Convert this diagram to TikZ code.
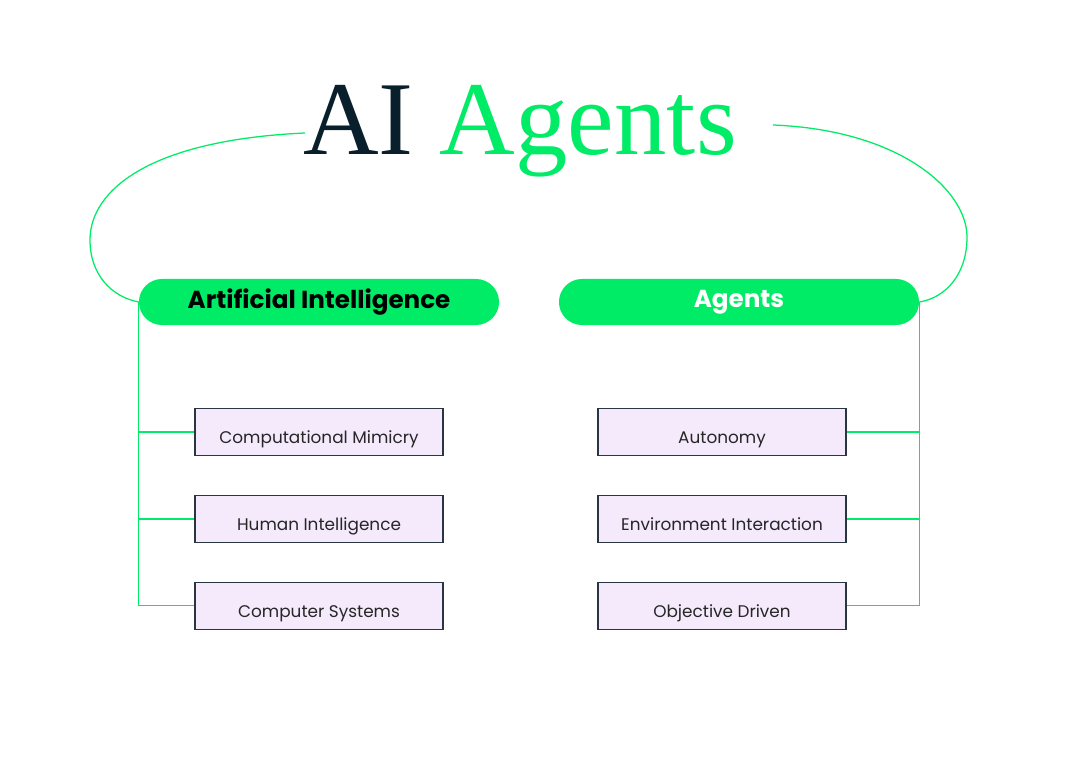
\documentclass[tikz,border=0pt]{standalone}
\usepackage{fontspec}
\setmainfont{Liberation Serif}
\setsansfont{Poppins}
\usetikzlibrary{positioning}
\definecolor{aigreen}{HTML}{00EB66}
\definecolor{ainavy}{HTML}{0A1F2C}
\definecolor{lavender}{HTML}{F5EAFC}
\definecolor{boxline}{HTML}{2A3542}

\begin{document}
\begin{tikzpicture}[x=0.025cm, y=-0.025cm,
  pill/.style={fill=aigreen, rounded corners=0.575cm, minimum width=9cm, minimum height=1.15cm, font=\sffamily\bfseries\fontsize{17.5}{20}\selectfont},
  item/.style={draw=boxline, line width=0.9pt, fill=lavender, minimum width=6.2cm, minimum height=1.18cm, text height=16pt, text depth=0pt, font=\sffamily\fontsize{12}{14}\selectfont, text=black!85},
  link/.style={aigreen, line width=0.9pt}]
\useasboundingbox (0,0) rectangle (1080,774);
% Title
\node[anchor=base] (title) at (520,155) {\fontsize{74.5}{80}\selectfont\textcolor{ainavy}{AI} \textcolor{aigreen}{Agents}};
\coordinate (lstart) at (305,133);
\coordinate (rstart) at (773,125);
% Headers
\node[pill, text=black] (ai) at (319,302) {Artificial Intelligence};
\node[pill, text=white] (ag) at (739,302) {Agents};
% Left items
\node[item] (cm) at (319,432) {Computational Mimicry};
\node[item, below=0.96cm of cm] (hi) {Human Intelligence};
\node[item, below=0.96cm of hi] (cs) {Computer Systems};
% Right items
\node[item] (au) at (722,432) {Autonomy};
\node[item, below=0.96cm of au] (ei) {Environment Interaction};
\node[item, below=0.96cm of ei] (od) {Objective Driven};
% Arcs from the title
\draw[link] (lstart) .. controls (150,140) and (90,190) .. (90,240) .. controls (90,275) and (112,297) .. (ai.west);
\draw[link] (rstart) .. controls (900,130) and (967,190) .. (967,237) .. controls (967,275) and (945,298) .. (ag.east);
% Branches
\draw[link] (ai.west) |- (cm.west);
\draw[link] (ai.west) |- (hi.west);
\draw[link] (ai.west) |- (cs.west);
\draw[link] (ag.east) |- (au.east);
\draw[link] (ag.east) |- (ei.east);
\draw[link] (ag.east) |- (od.east);
\end{tikzpicture}
\end{document}
